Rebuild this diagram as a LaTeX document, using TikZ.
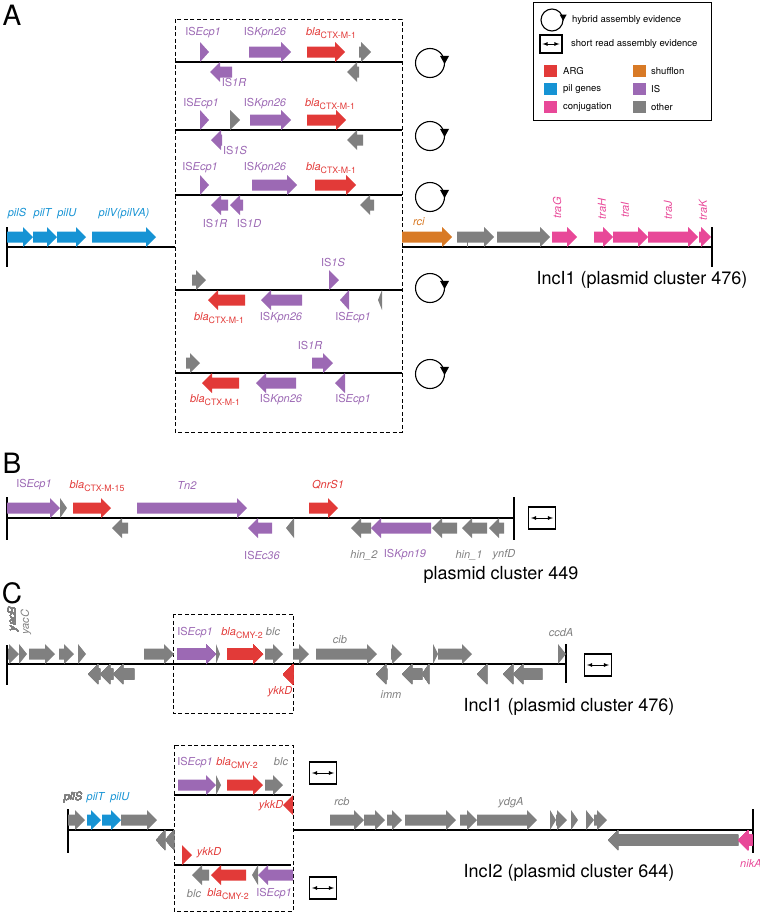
\documentclass[tikz,border=0pt]{standalone}
\usepackage{fontspec}
\setmainfont{TeX Gyre Heros}
\usepackage{tikz}

\definecolor{argred}{RGB}{226,58,56}
\definecolor{pilblue}{RGB}{22,147,212}
\definecolor{conjpink}{RGB}{232,72,152}
\definecolor{shufforange}{RGB}{216,122,38}
\definecolor{ispurple}{RGB}{156,105,180}
\definecolor{othergray}{RGB}{128,128,128}

% gene arrows: colour, x from, x to, y of the backbone
\newcommand{\genefwd}[4]{%
  \pgfmathsetmacro{\gx}{max(#2,#3-10)}%
  \fill[#1] (#2,#4+4.5) -- (\gx,#4+4.5) -- (\gx,#4) -- (#3,#4+10) -- (\gx,#4+20) -- (\gx,#4+15.5) -- (#2,#4+15.5) -- cycle;}
\newcommand{\generev}[4]{%
  \pgfmathsetmacro{\gx}{min(#3,#2+10)}%
  \fill[#1] (#3,#4-4.5) -- (\gx,#4-4.5) -- (\gx,#4) -- (#2,#4-10) -- (\gx,#4-20) -- (\gx,#4-15.5) -- (#3,#4-15.5) -- cycle;}
\newcommand{\bla}[1]{\textit{bla}\raisebox{-2.5pt}{\fontsize{8.8}{9}\selectfont #1}}
\newcommand{\isname}[1]{IS\textit{#1}}
\newcommand{\hybtip}[2]{%
  \fill ([shift={(-#2,0.7*#2)}]#1.15) -- ([shift={(#2,0.7*#2)}]#1.15) -- ([shift={(0,-1.1*#2)}]#1.15) -- cycle;}
\newcommand{\srarrow}[1]{%
  \draw[latex-latex, line width=0.8pt] ([xshift=3pt]#1.west) -- ([xshift=-3pt]#1.east);}

\begin{document}
\begin{tikzpicture}[x=1pt,y=1pt]
\tikzstyle{every node}+=[inner sep=0pt]
\tikzstyle{lbl}=[font=\fontsize{11}{12}\selectfont]
\tikzstyle{lblis}=[lbl, text=ispurple]
\tikzstyle{lblarg}=[lbl, text=argred]
\tikzstyle{lblpil}=[lbl, text=pilblue]
\tikzstyle{lblconj}=[lbl, text=conjpink, rotate=90]
\tikzstyle{lblother}=[lbl, text=othergray]
\tikzstyle{leg}=[font=\fontsize{9.5}{11}\selectfont, anchor=west]
\tikzstyle{big}=[font=\fontsize{18}{20}\selectfont]
\tikzstyle{panel}=[font=\fontsize{28}{30}\selectfont]
\tikzstyle{backbone}=[black, line width=1.1pt]
\tikzstyle{cassette}=[black, line width=1pt, dash pattern=on 4pt off 2.5pt]
\tikzstyle{hybrid}=[draw, circle, line width=1.1pt, minimum size=29pt]
\tikzstyle{srbox}=[draw, rectangle, line width=1.1pt, minimum width=27pt, minimum height=22pt]
\tikzstyle{swatch}=[rectangle, minimum width=13pt, minimum height=12pt]
\useasboundingbox (0,0) rectangle (760,-913);

%%% panel A
\node[panel] (pA) at (12,-15) {A};
\draw[cassette] (175,-19) rectangle (402,-432);
\foreach \y in {62,130,195,290,373}
  \draw[backbone] (175,-\y) -- (402,-\y);

% row 1
\genefwd{ispurple}{200}{209}{-62}
\genefwd{ispurple}{249}{291}{-62}
\genefwd{argred}{307}{345}{-62}
\genefwd{othergray}{359}{371}{-62}
\generev{ispurple}{210}{232}{-62}
\generev{othergray}{347}{359}{-62}
\node[lblis] (r1ecp) at (203,-33) {\isname{Ecp1}};
\node[lblis] (r1kpn) at (265,-33) {\isname{Kpn26}};
\node[lblarg] (r1bla) at (331,-33) {\bla{CTX-M-1}};
\node[lblis] (r1isr) at (234,-82) {\isname{1R}};

% row 2
\genefwd{ispurple}{200}{209}{-130}
\genefwd{othergray}{230}{240}{-130}
\genefwd{ispurple}{250}{291}{-130}
\genefwd{argred}{307}{346}{-130}
\generev{ispurple}{211}{222}{-130}
\generev{othergray}{347}{363}{-130}
\node[lblis] (r2ecp) at (201,-104) {\isname{Ecp1}};
\node[lblis] (r2kpn) at (265,-104) {\isname{Kpn26}};
\node[lblarg] (r2bla) at (330,-104) {\bla{CTX-M-1}};
\node[lblis] (r2iss) at (235,-150) {\isname{1S}};

% row 3
\genefwd{ispurple}{200}{209}{-195}
\genefwd{ispurple}{252}{297}{-195}
\genefwd{argred}{315}{356}{-195}
\generev{ispurple}{211}{228}{-195}
\generev{ispurple}{230}{243}{-195}
\generev{othergray}{360}{374}{-195}
\node[lblis] (r3ecp) at (200,-168) {\isname{Ecp1}};
\node[lblis] (r3kpn) at (265,-168) {\isname{Kpn26}};
\node[lblarg] (r3bla) at (331,-168) {\bla{CTX-M-1}};
\node[lblis] (r3isr) at (215,-223) {\isname{1R}};
\node[lblis] (r3isd) at (249,-223) {\isname{1D}};

% row 4
\genefwd{othergray}{192}{206}{-290}
\genefwd{ispurple}{329}{339}{-290}
\generev{argred}{208}{245}{-290}
\generev{ispurple}{261}{302}{-290}
\generev{ispurple}{340}{349}{-290}
\generev{othergray}{378}{382}{-290}
\node[lblis] (r4iss) at (333,-262) {\isname{1S}};
\node[lblarg] (r4bla) at (219,-318) {\bla{CTX-M-1}};
\node[lblis] (r4kpn) at (281,-318) {\isname{Kpn26}};
\node[lblis] (r4ecp) at (353,-318) {\isname{Ecp1}};

% row 5
\genefwd{othergray}{186}{200}{-373}
\genefwd{ispurple}{312}{333}{-373}
\generev{argred}{202}{239}{-373}
\generev{ispurple}{256}{296}{-373}
\generev{ispurple}{335}{345}{-373}
\node[lblis] (r5isr) at (310,-345) {\isname{1R}};
\node[lblarg] (r5bla) at (215,-400) {\bla{CTX-M-1}};
\node[lblis] (r5kpn) at (281,-400) {\isname{Kpn26}};
\node[lblis] (r5ecp) at (353,-400) {\isname{Ecp1}};

% circular evidence
\foreach \y [count=\i] in {63,136,197,288,374} {
  \node[hybrid] (h\i) at (430,-\y) {};
  \hybtip{h\i}{4.5}
}

% IncI1 backbone
\draw[backbone] (7,-247) -- (175,-247);
\draw[backbone] (402,-247) -- (712,-247);
\draw[backbone] (7,-227) -- (7,-267);
\draw[backbone] (712,-227) -- (712,-267);
\genefwd{pilblue}{7}{33}{-247}
\genefwd{pilblue}{33}{57}{-247}
\genefwd{pilblue}{57}{86}{-247}
\genefwd{pilblue}{92}{156}{-247}
\node[lblpil] (pils) at (17,-214) {\textit{pilS}};
\node[lblpil] (pilt) at (43,-214) {\textit{pilT}};
\node[lblpil] (pilu) at (67,-214) {\textit{pilU}};
\node[lblpil] (pilv) at (124,-214) {\textit{pilV(pilVA)}};
\genefwd{shufforange}{402}{452}{-247}
\genefwd{othergray}{457}{494}{-247}
\draw[othergray, line width=0.8pt] (467,-240) -- (467,-247);
\genefwd{othergray}{497}{550}{-247}
\genefwd{conjpink}{552}{577}{-247}
\genefwd{conjpink}{594}{613}{-247}
\genefwd{conjpink}{613}{648}{-247}
\genefwd{conjpink}{648}{698}{-247}
\genefwd{conjpink}{699}{711}{-247}
\node[lbl, text=shufforange] (rci) at (419,-222) {\textit{rci}};
\node[lblconj] (trag) at (557,-208) {\textit{traG}};
\node[lblconj] (trah) at (602,-209) {\textit{traH}};
\node[lblconj] (trai) at (625,-210) {\textit{traI}};
\node[lblconj] (traj) at (668,-210) {\textit{traJ}};
\node[lblconj] (trak) at (703,-210) {\textit{traK}};
\node[big] (incA) at (642,-280) {IncI1 (plasmid cluster 476)};

% legend
\draw[line width=1pt] (533,-2) rectangle (711,-120);
\node[hybrid, minimum size=22pt] (lhyb) at (552,-20) {};
\hybtip{lhyb}{3.5}
\node[leg] (lhybtxt) at (572,-20) {hybrid assembly evidence};
\node[srbox, minimum width=22pt, minimum height=18pt] (lsr) at (551,-44) {};
\srarrow{lsr}
\node[leg] (lsrtxt) at (571,-44) {short read assembly evidence};
\node[swatch, fill=argred] (karg) at (550,-71) {};
\node[leg] (kargtxt) at (563,-71) {ARG};
\node[swatch, fill=pilblue] (kpil) at (550,-89) {};
\node[leg] (kpiltxt) at (563,-89) {pil genes};
\node[swatch, fill=conjpink] (kconj) at (550,-107) {};
\node[leg] (kconjtxt) at (563,-107) {conjugation};
\node[swatch, fill=shufforange] (kshuf) at (639,-71) {};
\node[leg] (kshuftxt) at (651,-71) {shufflon};
\node[swatch, fill=ispurple] (kis) at (639,-89) {};
\node[leg] (kistxt) at (651,-89) {IS};
\node[swatch, fill=othergray] (koth) at (639,-107) {};
\node[leg] (kothtxt) at (651,-107) {other};

%%% panel B
\node[panel] (pB) at (12,-463) {B};
\draw[backbone] (7,-518) -- (514,-518);
\draw[backbone] (7,-497) -- (7,-540);
\draw[backbone] (514,-497) -- (514,-540);
\genefwd{ispurple}{7}{60}{-518}
\genefwd{othergray}{60}{67}{-518}
\genefwd{argred}{73}{111}{-518}
\genefwd{ispurple}{137}{247}{-518}
\genefwd{argred}{309}{338}{-518}
\generev{othergray}{112}{128}{-518}
\generev{ispurple}{248}{272}{-518}
\generev{othergray}{286}{294}{-518}
\generev{othergray}{351}{371}{-518}
\generev{ispurple}{371}{431}{-518}
\generev{othergray}{432}{457}{-518}
\generev{othergray}{462}{487}{-518}
\generev{othergray}{489}{504}{-518}
\node[lblis] (becp) at (34,-485) {\isname{Ecp1}};
\node[lblarg] (bbla) at (97,-486) {\bla{CTX-M-15}};
\node[lblis] (btn) at (187,-485) {\textit{Tn2}};
\node[lblarg] (bqnr) at (328,-485) {\textit{QnrS1}};
\node[lblis] (bec36) at (262,-555) {\isname{Ec36}};
\node[lblother] (bhin2) at (364,-555) {\textit{hin\_2}};
\node[lblis] (bkpn) at (405,-555) {\isname{Kpn19}};
\node[lblother] (bhin1) at (469,-555) {\textit{hin\_1}};
\node[lblother] (bynfd) at (504,-555) {\textit{ynfD}};
\node[srbox] (bsr) at (542,-518) {};
\srarrow{bsr}
\node[big] (incB) at (501,-575) {plasmid cluster 449};

%%% panel C, IncI1
\node[panel] (pC) at (12,-593) {C};
\draw[cassette] (173,-614) rectangle (293,-713);
\draw[backbone] (7,-664) -- (566,-664);
\draw[backbone] (7,-645) -- (7,-685);
\draw[backbone] (566,-644) -- (566,-683);
\foreach \a/\b in {8/19,19/27,29/55,59/74,78/86,144/174,216/220,265/283,293/309,316/377,391/402,433/438,438/472,558/566}
  \genefwd{othergray}{\a}{\b}{-664}
\genefwd{ispurple}{177}{216}{-664}
\genefwd{argred}{227}{263}{-664}
\foreach \a/\b in {88/100,100/113,113/134,376/387,402/422,422/429,477/487,503/513,513/542}
  \generev{othergray}{\a}{\b}{-664}
\generev{argred}{283}{293}{-664}
\node[lbl, text=othergray, rotate=90] (cyb) at (13,-619) {\textit{yacB}};
\node[lbl, text=othergray, rotate=90] (cyc) at (26,-622) {\textit{yacC}};
\node[lblis] (cecp) at (195,-633) {\isname{Ecp1}};
\node[lblarg] (cbla) at (242,-633) {\bla{CMY-2}};
\node[lblother] (cblc) at (273,-632) {\textit{blc}};
\node[lblarg] (cykk) at (280,-692) {\textit{ykkD}};
\node[lblother] (ccib) at (340,-640) {\textit{cib}};
\node[lblother] (cimm) at (391,-695) {\textit{imm}};
\node[lblother] (cccd) at (561,-633) {\textit{ccdA}};
\node[srbox] (csr) at (598,-665) {};
\srarrow{csr}
\node[big] (incC) at (569,-707) {IncI1 (plasmid cluster 476)};

%%% panel C, IncI2
\draw[cassette] (174,-745) rectangle (293,-911);
\draw[backbone] (68,-830) -- (174,-830);
\draw[backbone] (293,-830) -- (753,-830);
\draw[backbone] (68,-809) -- (68,-853);
\draw[backbone] (753,-809) -- (753,-853);
\draw[backbone] (174,-795) -- (291,-795);
\draw[backbone] (174,-865) -- (291,-865);
% upper variant
\genefwd{ispurple}{178}{216}{-795}
\genefwd{othergray}{216}{221}{-795}
\genefwd{argred}{227}{263}{-795}
\genefwd{othergray}{265}{283}{-795}
\generev{argred}{283}{293}{-795}
\node[lblis] (uecp) at (195,-763) {\isname{Ecp1}};
\node[lblarg] (ubla) at (237,-763) {\bla{CMY-2}};
\node[lblother] (ublc) at (281,-762) {\textit{blc}};
\node[lblarg] (uykk) at (271,-806) {\textit{ykkD}};
\node[srbox] (usr) at (323,-773) {};
\srarrow{usr}
% lower variant
\genefwd{argred}{182}{192}{-865}
\generev{othergray}{192}{209}{-865}
\generev{argred}{211}{246}{-865}
\generev{othergray}{252}{258}{-865}
\generev{ispurple}{258}{293}{-865}
\node[lblarg] (lykk) at (209,-853) {\textit{ykkD}};
\node[lblother] (lblc) at (194,-894) {\textit{blc}};
\node[lblarg] (lbla) at (228,-894) {\bla{CMY-2}};
\node[lblis] (lecp) at (274,-894) {\isname{Ecp1}};
\node[srbox] (lsr2) at (323,-888) {};
\srarrow{lsr2}
% backbone genes
\genefwd{othergray}{68}{85}{-830}
\genefwd{pilblue}{87}{101}{-830}
\genefwd{pilblue}{102}{121}{-830}
\foreach \a/\b in {121/157,330/364,364/385,387/402,405/456,460/477,477/537,550/556,556/567,571/578,586/594,594/607}
  \genefwd{othergray}{\a}{\b}{-830}
\foreach \a/\b in {156/165,165/174,608/738}
  \generev{othergray}{\a}{\b}{-830}
\generev{conjpink}{738}{752}{-830}
\node[lbl, text=othergray] (dgs) at (73,-798) {\textit{pliS}};
\node[lblpil] (dpilt) at (96,-798) {\textit{pilT}};
\node[lblpil] (dpilu) at (120,-798) {\textit{pilU}};
\node[lblother] (drcb) at (342,-802) {\textit{rcb}};
\node[lblother] (dydga) at (511,-803) {\textit{ydgA}};
\node[lbl, text=conjpink, anchor=west] (dnika) at (740,-863) {\textit{nikA}};
\node[big] (incD) at (569,-873) {IncI2 (plasmid cluster 644)};
\end{tikzpicture}
\end{document}
